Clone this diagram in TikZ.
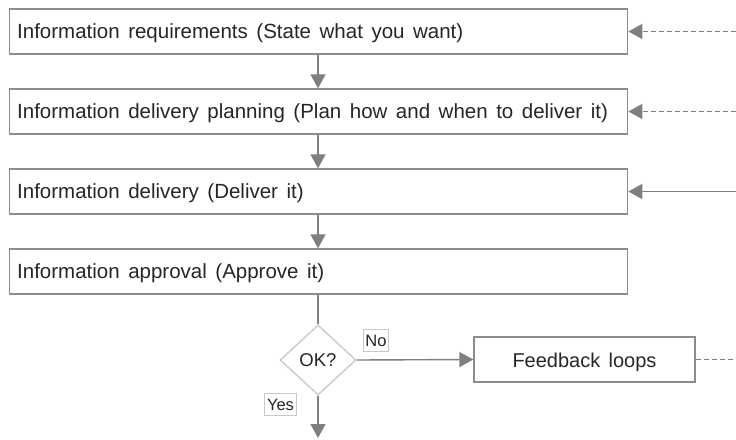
\documentclass[tikz,border=0pt]{standalone}
\usepackage{fontspec}
\setmainfont{Liberation Sans}
\newfontfamily\widefont[WordSpace={1.9,0.3,0.2}]{Liberation Sans}
\newfontfamily\fbfont[WordSpace={1.5,0.2,0.2}]{Liberation Sans}
\usetikzlibrary{arrows.meta,shapes.geometric}
\definecolor{linegray}{HTML}{7F7F7F}
\definecolor{boxgray}{HTML}{8C8C8C}
\definecolor{lightgray}{HTML}{C8C8C8}
\definecolor{textgray}{HTML}{262626}
\tikzset{
  stagebox/.style={draw=boxgray, line width=1.3pt, fill=white, rectangle,
    minimum width=618pt, minimum height=45pt, inner sep=0pt, anchor=west},
  stagetext/.style={anchor=west, inner xsep=8pt, inner ysep=0pt,
    text height=14.8pt, text depth=0pt,
    font=\widefont\fontsize{20.5pt}{24pt}\selectfont, text=textgray},
  fbbox/.style={draw=boxgray, line width=1.3pt, fill=white, rectangle,
    minimum width=221pt, minimum height=45pt, inner sep=0pt,
    text height=15pt, text depth=0pt,
    font=\fbfont\fontsize{20pt}{24pt}\selectfont, text=textgray},
  decision/.style={draw=lightgray, line width=1.3pt, fill=white, diamond,
    minimum width=76pt, minimum height=70pt, inner sep=0pt,
    text height=13.3pt, text depth=0pt,
    font=\fontsize{18.5pt}{22pt}\selectfont, text=textgray},
  tag/.style={draw=lightgray, line width=0.8pt, fill=white, inner xsep=2.3pt, inner ysep=5pt,
    text height=12pt, text depth=0pt,
    font=\fontsize{16.5pt}{20pt}\selectfont, text=textgray},
  flow/.style={draw=linegray, line width=1.4pt,
    -{Triangle[width=15pt,length=14pt]}},
  plain/.style={draw=linegray, line width=1.4pt},
  dashflow/.style={draw=linegray, line width=1.2pt, dash pattern=on 5pt off 3pt,
    -{Triangle[width=15pt,length=14pt]}},
}
\begin{document}
\begin{tikzpicture}[x=1pt,y=-1pt]
\useasboundingbox (0,0) rectangle (736,439);
\node[stagebox] (b1) at (9,31.5) {};
\node[stagebox] (b2) at (9,111.5) {};
\node[stagebox] (b3) at (9,191.5) {};
\node[stagebox] (b4) at (9,271.5) {};
\node[stagetext] (t1) at (b1.west) {Information requirements (State what you want)};
\node[stagetext] (t2) at (b2.west) {Information delivery planning (Plan how and when to deliver it)};
\node[stagetext] (t3) at (b3.west) {Information delivery (Deliver it)};
\node[stagetext] (t4) at (b4.west) {Information approval (Approve it)};
\node[decision] (ok) at (318,360) {OK?};
\node[fbbox] (fb) at (584.5,359.5) {Feedback loops};
\node[tag] (no) at (376,340) {No};
\node[tag] (yes) at (280.5,404.5) {Yes};
\coordinate (r1) at (736,31.5);
\coordinate (r2) at (736,111.5);
\coordinate (r3) at (736,191.5);
\coordinate (r4) at (736,359.5);
\coordinate (out) at (318,438);
\draw[flow] (b1.south -| ok.north) -- (b2.north -| ok.north);
\draw[flow] (b2.south -| ok.north) -- (b3.north -| ok.north);
\draw[flow] (b3.south -| ok.north) -- (b4.north -| ok.north);
\draw[plain] (b4.south -| ok.north) -- (ok.north);
\draw[flow] (ok.east) -- (fb.west);
\draw[flow] (ok.south) -- (out);
\draw[dashflow] (r1) -- (b1.east |- r1);
\draw[dashflow] (r2) -- (b2.east |- r2);
\draw[flow] (r3) -- (b3.east |- r3);
\draw[draw=linegray, line width=1.2pt, dash pattern=on 5pt off 3pt] (fb.east) -- (r4);
\end{tikzpicture}
\end{document}
